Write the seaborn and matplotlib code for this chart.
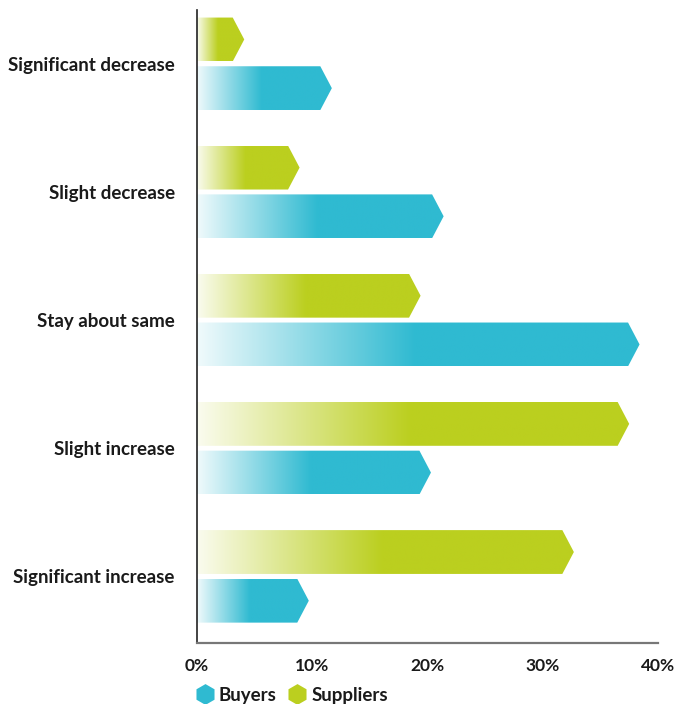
import numpy as np
import pandas as pd
import matplotlib
matplotlib.use("Agg")
import matplotlib.pyplot as plt
import seaborn as sns
from matplotlib.patches import Polygon
from matplotlib.lines import Line2D
from matplotlib.colors import to_rgb

# Data (values in %)
categories = [
    "Significant decrease",
    "Slight decrease",
    "Stay about same",
    "Slight increase",
    "Significant increase",
]
buyers = [11.2, 20.9, 37.9, 19.8, 9.2]
suppliers = [3.6, 8.4, 18.9, 37.0, 32.2]
groups = ["Buyers", "Suppliers"]
x_ticks = [0, 10, 20, 30, 40]
x_tick_labels = ["0%", "10%", "20%", "30%", "40%"]

# Style
BUYERS_COLOR = "#2fbad1"
SUPPLIERS_COLOR = "#bbcf1f"
TEXT_COLOR = "#1a1a1a"
TIP = 0.5          # half length of the arrow point (in % units)
RAMP = 0.5         # share of the bar covered by the white -> colour fade
FONT_SIZE = 13.5

df = pd.DataFrame({
    "category": categories * 2,
    "value": suppliers + buyers,
    "group": ["Suppliers"] * len(categories) + ["Buyers"] * len(categories),
})

sns.set_theme(style="white")
plt.rcParams["font.family"] = ["Lato", "DejaVu Sans"]

fig = plt.figure(figsize=(6.75, 7.04), dpi=100)
ax = fig.add_axes([197 / 675, 61 / 704, 461 / 675, 633 / 704])

sns.barplot(
    data=df, x="value", y="category", hue="group",
    order=categories, hue_order=["Suppliers", "Buyers"],
    palette={"Buyers": BUYERS_COLOR, "Suppliers": SUPPLIERS_COLOR},
    saturation=1, orient="h", width=0.76, gap=0.1, errorbar=None,
    legend=False, ax=ax,
)

# Turn every bar into an arrow with a white -> colour gradient
for bar in list(ax.patches):
    w = bar.get_width()
    y0 = bar.get_y()
    h = bar.get_height()
    rgb = np.array(to_rgb(bar.get_facecolor()))
    bar.set_visible(False)

    pts = [(0, y0), (w - TIP, y0), (w + TIP, y0 + h / 2), (w - TIP, y0 + h), (0, y0 + h)]
    poly = Polygon(pts, closed=True, facecolor="none", edgecolor="none")
    ax.add_patch(poly)

    xs = np.linspace(0, w + TIP, 400)
    a = np.clip(0.07 + 0.93 * xs / (RAMP * w), 0, 1)
    img = a[None, :, None] * rgb[None, None, :] + (1 - a[None, :, None])
    im = ax.imshow(img, extent=[0, w + TIP, y0 + h, y0], aspect="auto",
                   interpolation="bilinear", zorder=2)
    im.set_clip_path(poly)

ax.set_xlim(0, 40)
ax.set_ylim(4.52, -0.42)
ax.set_xlabel("")
ax.set_ylabel("")

ax.set_xticks(x_ticks)
ax.set_xticklabels(x_tick_labels, fontweight="bold", fontsize=12.5, color=TEXT_COLOR)
ax.set_yticks(range(len(categories)))
ax.set_yticklabels(categories, fontweight="bold", fontsize=FONT_SIZE, color=TEXT_COLOR)
ax.tick_params(axis="x", length=0, pad=11)
ax.tick_params(axis="y", length=0, pad=16)

sns.despine(ax=ax)
ax.spines["left"].set_color("#222222")
ax.spines["left"].set_linewidth(1.2)
ax.spines["bottom"].set_color("#777777")
ax.spines["bottom"].set_linewidth(1.6)

handles = [
    Line2D([], [], marker="h", ls="", markersize=15, markerfacecolor=BUYERS_COLOR,
           markeredgecolor="none", label=groups[0]),
    Line2D([], [], marker="h", ls="", markersize=15, markerfacecolor=SUPPLIERS_COLOR,
           markeredgecolor="none", label=groups[1]),
]
fig.legend(handles=handles, loc="center left", bbox_to_anchor=(186 / 675, 1 - 695 / 704),
           ncol=2, frameon=False, handletextpad=0.15, columnspacing=0.5, handlelength=1.2,
           prop={"weight": "bold", "size": FONT_SIZE}, labelcolor=TEXT_COLOR, borderaxespad=0)

fig.savefig("out.png", dpi=100)
